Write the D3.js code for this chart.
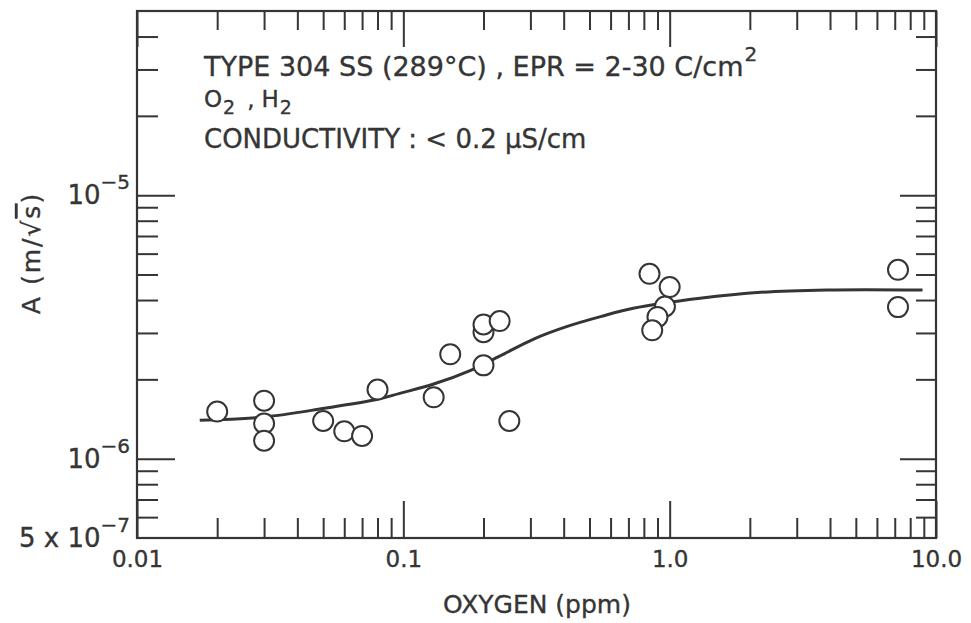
<!DOCTYPE html>
<html>
<head>
<meta charset="utf-8">
<script src="https://cdn.jsdelivr.net/npm/d3@7"></script>
<style>
  body { margin: 0; background: #fff; }
  text { font-family: 'DejaVu Sans', sans-serif; fill: #353535; stroke: #353535; stroke-width: 0.35px; }
</style>
</head>
<body>
<div id="chart"></div>
<script>
// measured points, oxygen (ppm) vs A (m/sqrt(s))
const oxygen = [0.02, 0.03, 0.03, 0.03, 0.05, 0.06, 0.07, 0.08, 0.13, 0.15, 0.2, 0.2, 0.2, 0.23, 0.25,
  0.84, 1.0, 0.96, 0.90, 0.86, 7.2, 7.2];
const coefA = [1.51e-6, 1.66e-6, 1.36e-6, 1.17e-6, 1.39e-6, 1.27e-6, 1.22e-6, 1.83e-6, 1.71e-6, 2.49e-6,
  2.26e-6, 3.02e-6, 3.23e-6, 3.33e-6, 1.39e-6, 5.03e-6, 4.48e-6, 3.78e-6, 3.45e-6, 3.07e-6, 5.21e-6, 3.76e-6];

// fitted curve
const fitOxygen = [0.0172, 0.03, 0.05, 0.08, 0.097, 0.13, 0.18, 0.23, 0.31, 0.41, 0.55, 0.73, 1.3, 2.2, 3.9, 8.9];
const fitA = [1.40e-6, 1.44e-6, 1.55e-6, 1.68e-6, 1.77e-6, 1.92e-6, 2.17e-6, 2.45e-6, 2.85e-6, 3.17e-6,
  3.46e-6, 3.72e-6, 4.06e-6, 4.28e-6, 4.37e-6, 4.37e-6];

const xMajor = [0.01, 0.1, 1, 10];
const xTickLabels = ['0.01', '0.1', '1.0', '10.0'];
const yMajor = [1e-6, 1e-5];
const yLabelValues = [5e-7, 1e-6, 1e-5];
const yLabelBase = ['5 x 10', '10', '10'];
const yLabelExp = ['\u22127', '\u22126', '\u22125'];

const width = 971, height = 623;
const frame = { left: 137, right: 936, top: 11, bottom: 538 };
const ink = '#353535';

const svg = d3.select('#chart').append('svg')
  .attr('width', width)
  .attr('height', height);

const x = d3.scaleLog().domain([0.01, 10]).range([frame.left, frame.right]);
const y = d3.scaleLog().domain([5e-7, 5e-5]).range([frame.bottom, frame.top]);

const xMinor = x.ticks().filter(d => !xMajor.some(m => Math.abs(m - d) / m < 1e-6));
const yMinor = y.ticks().filter(d => !yMajor.some(m => Math.abs(m - d) / m < 1e-6)
  && d > 5.01e-7 && d < 4.99e-5);

function styleAxis(g) {
  g.select('.domain').remove();
  g.selectAll('line').attr('stroke', ink).attr('stroke-width', 2);
}

// ticks all point inwards
const addAxis = (axis, tx, ty) => svg.append('g')
  .attr('transform', `translate(${tx},${ty})`)
  .call(axis)
  .call(styleAxis);

addAxis(d3.axisBottom(x).tickValues(xMinor).tickSize(-20).tickFormat(''), 0, frame.bottom);
addAxis(d3.axisBottom(x).tickValues(xMajor).tickSize(-37).tickPadding(13)
  .tickFormat((d, i) => xTickLabels[i]), 0, frame.bottom);
addAxis(d3.axisTop(x).tickValues(xMinor).tickSize(-19).tickFormat(''), 0, frame.top);
addAxis(d3.axisTop(x).tickValues(xMajor).tickSize(-36).tickFormat(''), 0, frame.top);
addAxis(d3.axisLeft(y).tickValues(yMinor).tickSize(-21).tickFormat(''), frame.left, 0);
addAxis(d3.axisLeft(y).tickValues(yMajor).tickSize(-38).tickFormat(''), frame.left, 0);
addAxis(d3.axisRight(y).tickValues(yMinor).tickSize(-20).tickFormat(''), frame.right, 0);
addAxis(d3.axisRight(y).tickValues(yMajor).tickSize(-36).tickFormat(''), frame.right, 0);

svg.selectAll('.tick text')
  .attr('font-family', "'DejaVu Sans', sans-serif")
  .attr('font-size', 23)
  .attr('fill', ink);

svg.append('rect')
  .attr('x', frame.left).attr('y', frame.top)
  .attr('width', frame.right - frame.left)
  .attr('height', frame.bottom - frame.top)
  .attr('fill', 'none')
  .attr('stroke', ink)
  .attr('stroke-width', 2.2);

// y labels with exponents
const yLab = svg.append('g').selectAll('text')
  .data(yLabelValues)
  .join('text')
  .attr('x', 130)
  .attr('y', d => y(d) + 9)
  .attr('text-anchor', 'end')
  .attr('font-size', 26);
yLab.append('tspan').text((d, i) => yLabelBase[i]);
yLab.append('tspan').attr('dy', -15).attr('font-size', 20).text((d, i) => yLabelExp[i]);

// fit curve
const line = d3.line()
  .x((d, i) => x(fitOxygen[i]))
  .y((d, i) => y(fitA[i]))
  .curve(d3.curveCatmullRom.alpha(0.5));

svg.append('path')
  .datum(fitOxygen)
  .attr('d', line)
  .attr('fill', 'none')
  .attr('stroke', ink)
  .attr('stroke-width', 3);

svg.append('g').selectAll('circle')
  .data(oxygen)
  .join('circle')
  .attr('cx', d => x(d))
  .attr('cy', (d, i) => y(coefA[i]))
  .attr('r', 10)
  .attr('fill', '#fff')
  .attr('stroke', ink)
  .attr('stroke-width', 2);

// annotation block
const note = svg.append('g');
const l1 = note.append('text').attr('x', 204).attr('y', 76).attr('font-size', 27);
l1.append('tspan').text('TYPE 304 SS (289\u00B0C) , EPR = 2-30 C/cm');
l1.append('tspan').attr('dy', -15).attr('dx', 1).attr('font-size', 20).text('2');

const l2 = note.append('text').attr('x', 204).attr('y', 107).attr('font-size', 23);
l2.append('tspan').text('O');
l2.append('tspan').attr('dy', 7).attr('dx', 1).attr('font-size', 19).text('2');
l2.append('tspan').attr('dy', -7).attr('dx', 12).text(',');
l2.append('tspan').attr('dx', 7).text('H');
l2.append('tspan').attr('dy', 7).attr('dx', 1).attr('font-size', 19).text('2');

note.append('text').attr('x', 204).attr('y', 148).attr('font-size', 26)
  .text('CONDUCTIVITY : < 0.2 \u03BCS/cm');

// axis titles
svg.append('text')
  .attr('x', 537).attr('y', 613)
  .attr('text-anchor', 'middle')
  .attr('font-size', 25)
  .text('OXYGEN (ppm)');

const yt = svg.append('text')
  .attr('transform', 'translate(40,253) rotate(-90)')
  .attr('text-anchor', 'middle')
  .attr('font-size', 25)
  .attr('letter-spacing', 2);
yt.append('tspan').text('A (m/\u221A');
yt.append('tspan').style('text-decoration', 'overline').text('s');
yt.append('tspan').text(')');
</script>
</body>
</html>
